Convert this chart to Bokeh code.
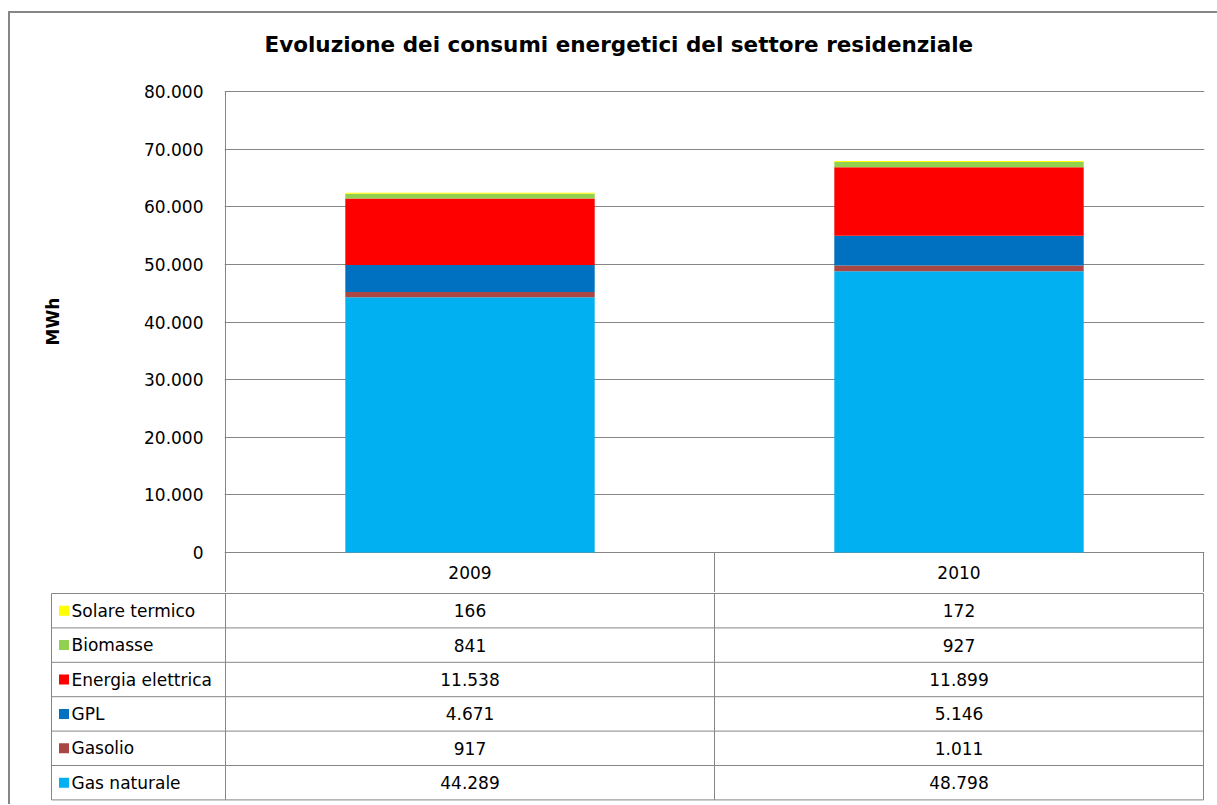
from bokeh.plotting import figure
from bokeh.layouts import column
from bokeh.models import Range1d, FixedTicker, ColumnDataSource, Title
from bokeh.core.properties import value
from bokeh.embed import file_html
from bokeh.resources import INLINE

# ---------------- data ----------------
years = ["2009", "2010"]
sources = ["Gas naturale", "Gasolio", "GPL", "Energia elettrica", "Biomasse", "Solare termico"]
gas_naturale = [44289, 48798]
gasolio = [917, 1011]
gpl = [4671, 5146]
energia_elettrica = [11538, 11899]
biomasse = [841, 927]
solare_termico = [166, 172]
colors = ["#00B0F0", "#AA4643", "#0070C0", "#FF0000", "#92D050", "#FFFF00"]
y_ticks = [0, 10000, 20000, 30000, 40000, 50000, 60000, 70000, 80000]
title_text = "Evoluzione dei consumi energetici del settore residenziale"
y_label = "MWh"

series = [gas_naturale, gasolio, gpl, energia_elettrica, biomasse, solare_termico]


def fmt(v):
    return f"{v:,}".replace(",", ".")


FONT = "DejaVu Sans"
GRAY = "#868686"
FS = "17px"

# ---------------- layout constants ----------------
PX = 489.0                 # pixels per category
S = y_ticks[-1] / 461.0    # data units per pixel (vertical)
pad_x = 1.0 / PX
H = 40 * S                 # header row height (data units)
n = len(years)
xs = [i + 0.5 for i in range(n)]
W = 1207

# ---------------- chart figure ----------------
pA = figure(width=W, height=579, output_backend="svg", toolbar_location=None,
            x_range=Range1d(-pad_x, n + pad_x),
            y_range=Range1d(-H, y_ticks[-1] + S),
            x_axis_location=None,
            min_border_left=214, min_border_right=13, min_border_top=77, min_border_bottom=0)
pA.frame_align = False
pA.outline_line_color = None
pA.background_fill_color = "white"
pA.border_fill_color = "white"
pA.xgrid.visible = False
pA.ygrid.ticker = FixedTicker(ticks=y_ticks)
pA.ygrid.grid_line_color = GRAY
pA.ygrid.grid_line_width = 1

ax = pA.yaxis[0]
ax.ticker = FixedTicker(ticks=y_ticks)
ax.major_label_overrides = {t: fmt(t) for t in y_ticks}
ax.axis_line_color = None
ax.major_tick_line_color = None
ax.minor_tick_line_color = None
ax.major_tick_out = 0
ax.major_tick_in = 0
ax.major_label_standoff = 21
ax.major_label_text_font = FONT
ax.major_label_text_font_size = FS
ax.major_label_text_color = "black"

pA.title.text = title_text
pA.title.align = "left"
pA.title.offset = 40
pA.title.standoff = 0
pA.title.text_font = FONT
pA.title.text_font_size = "21.5px"
pA.title.text_font_style = "bold"
pA.title.text_color = "black"
# spacer between the frame and the chart title
pA.add_layout(Title(text=" ", text_font_size="2px", standoff=30), "above")

# y-axis title (left side), shifted to be centred on the value scale
pA.add_layout(Title(text=" ", text_font_size="55px"), "left")
pA.add_layout(Title(text=y_label, align="left", offset=247, text_font=FONT,
                    text_font_size=FS, text_font_style="bold", text_color="black"),
              "left")

data = {"x": xs}
for name, vals in zip(sources, series):
    data[name] = vals
src = ColumnDataSource(data)
pA.vbar_stack(stackers=sources, x="x", width=0.51, fill_color=colors,
              line_color=None, source=src)

# left border of plot area + header row
pA.segment(x0=[0], y0=[-H], x1=[0], y1=[y_ticks[-1]], line_color=GRAY, line_width=1)
pA.segment(x0=[i + 1 for i in range(n)], y0=[-H] * n,
           x1=[i + 1 for i in range(n)], y1=[0] * n, line_color=GRAY, line_width=1)
pA.text(x=xs, y=[-H / 2] * n, text=years, text_align="center", text_baseline="middle",
        text_font=value(FONT), text_font_size=value(FS), text_color="black")

# ---------------- table figure ----------------
nr = len(sources)
row_px = 34.4
lab = 174.0 / PX
hB = 212
pB = figure(width=W, height=hB, output_backend="svg", toolbar_location=None,
            x_range=Range1d(-lab - pad_x, n + pad_x),
            y_range=Range1d(nr + 1.0 / row_px - hB / row_px, nr + 1.0 / row_px),
            x_axis_location=None, y_axis_location=None,
            min_border_left=40, min_border_right=13, min_border_top=0, min_border_bottom=0)
pB.frame_align = False
pB.outline_line_color = None
pB.grid.visible = False
pB.background_fill_color = "white"
pB.border_fill_color = "white"

rows = list(range(nr + 1))
pB.segment(x0=[-lab] * len(rows), y0=rows, x1=[n] * len(rows), y1=rows,
           line_color=GRAY, line_width=1)
vx = [-lab] + [i for i in range(n + 1)]
pB.segment(x0=vx, y0=[0] * len(vx), x1=vx, y1=[nr] * len(vx), line_color=GRAY, line_width=1)

yc = [k + 0.5 for k in range(nr)]
pB.scatter(x=[-lab + 12.5 / PX] * nr, y=yc, marker="square", size=10,
           fill_color=colors, line_color=None)
pB.text(x=[-lab + 20 / PX] * nr, y=yc, text=sources, text_align="left",
        text_baseline="middle", text_font=value(FONT), text_font_size=value(FS),
        text_color="black")
for i in range(n):
    pB.text(x=[xs[i]] * nr, y=yc, text=[fmt(s[i]) for s in series], text_align="center",
            text_baseline="middle", text_font=value(FONT), text_font_size=value(FS),
            text_color="black")

layout = column(pA, pB, spacing=0,
                styles={"border-style": "solid", "border-color": GRAY,
                        "border-width": "2px 0px 0px 2px",
                        "margin-left": "8px", "margin-top": "11px"})

open("out.html", "w").write(file_html(layout, INLINE))
